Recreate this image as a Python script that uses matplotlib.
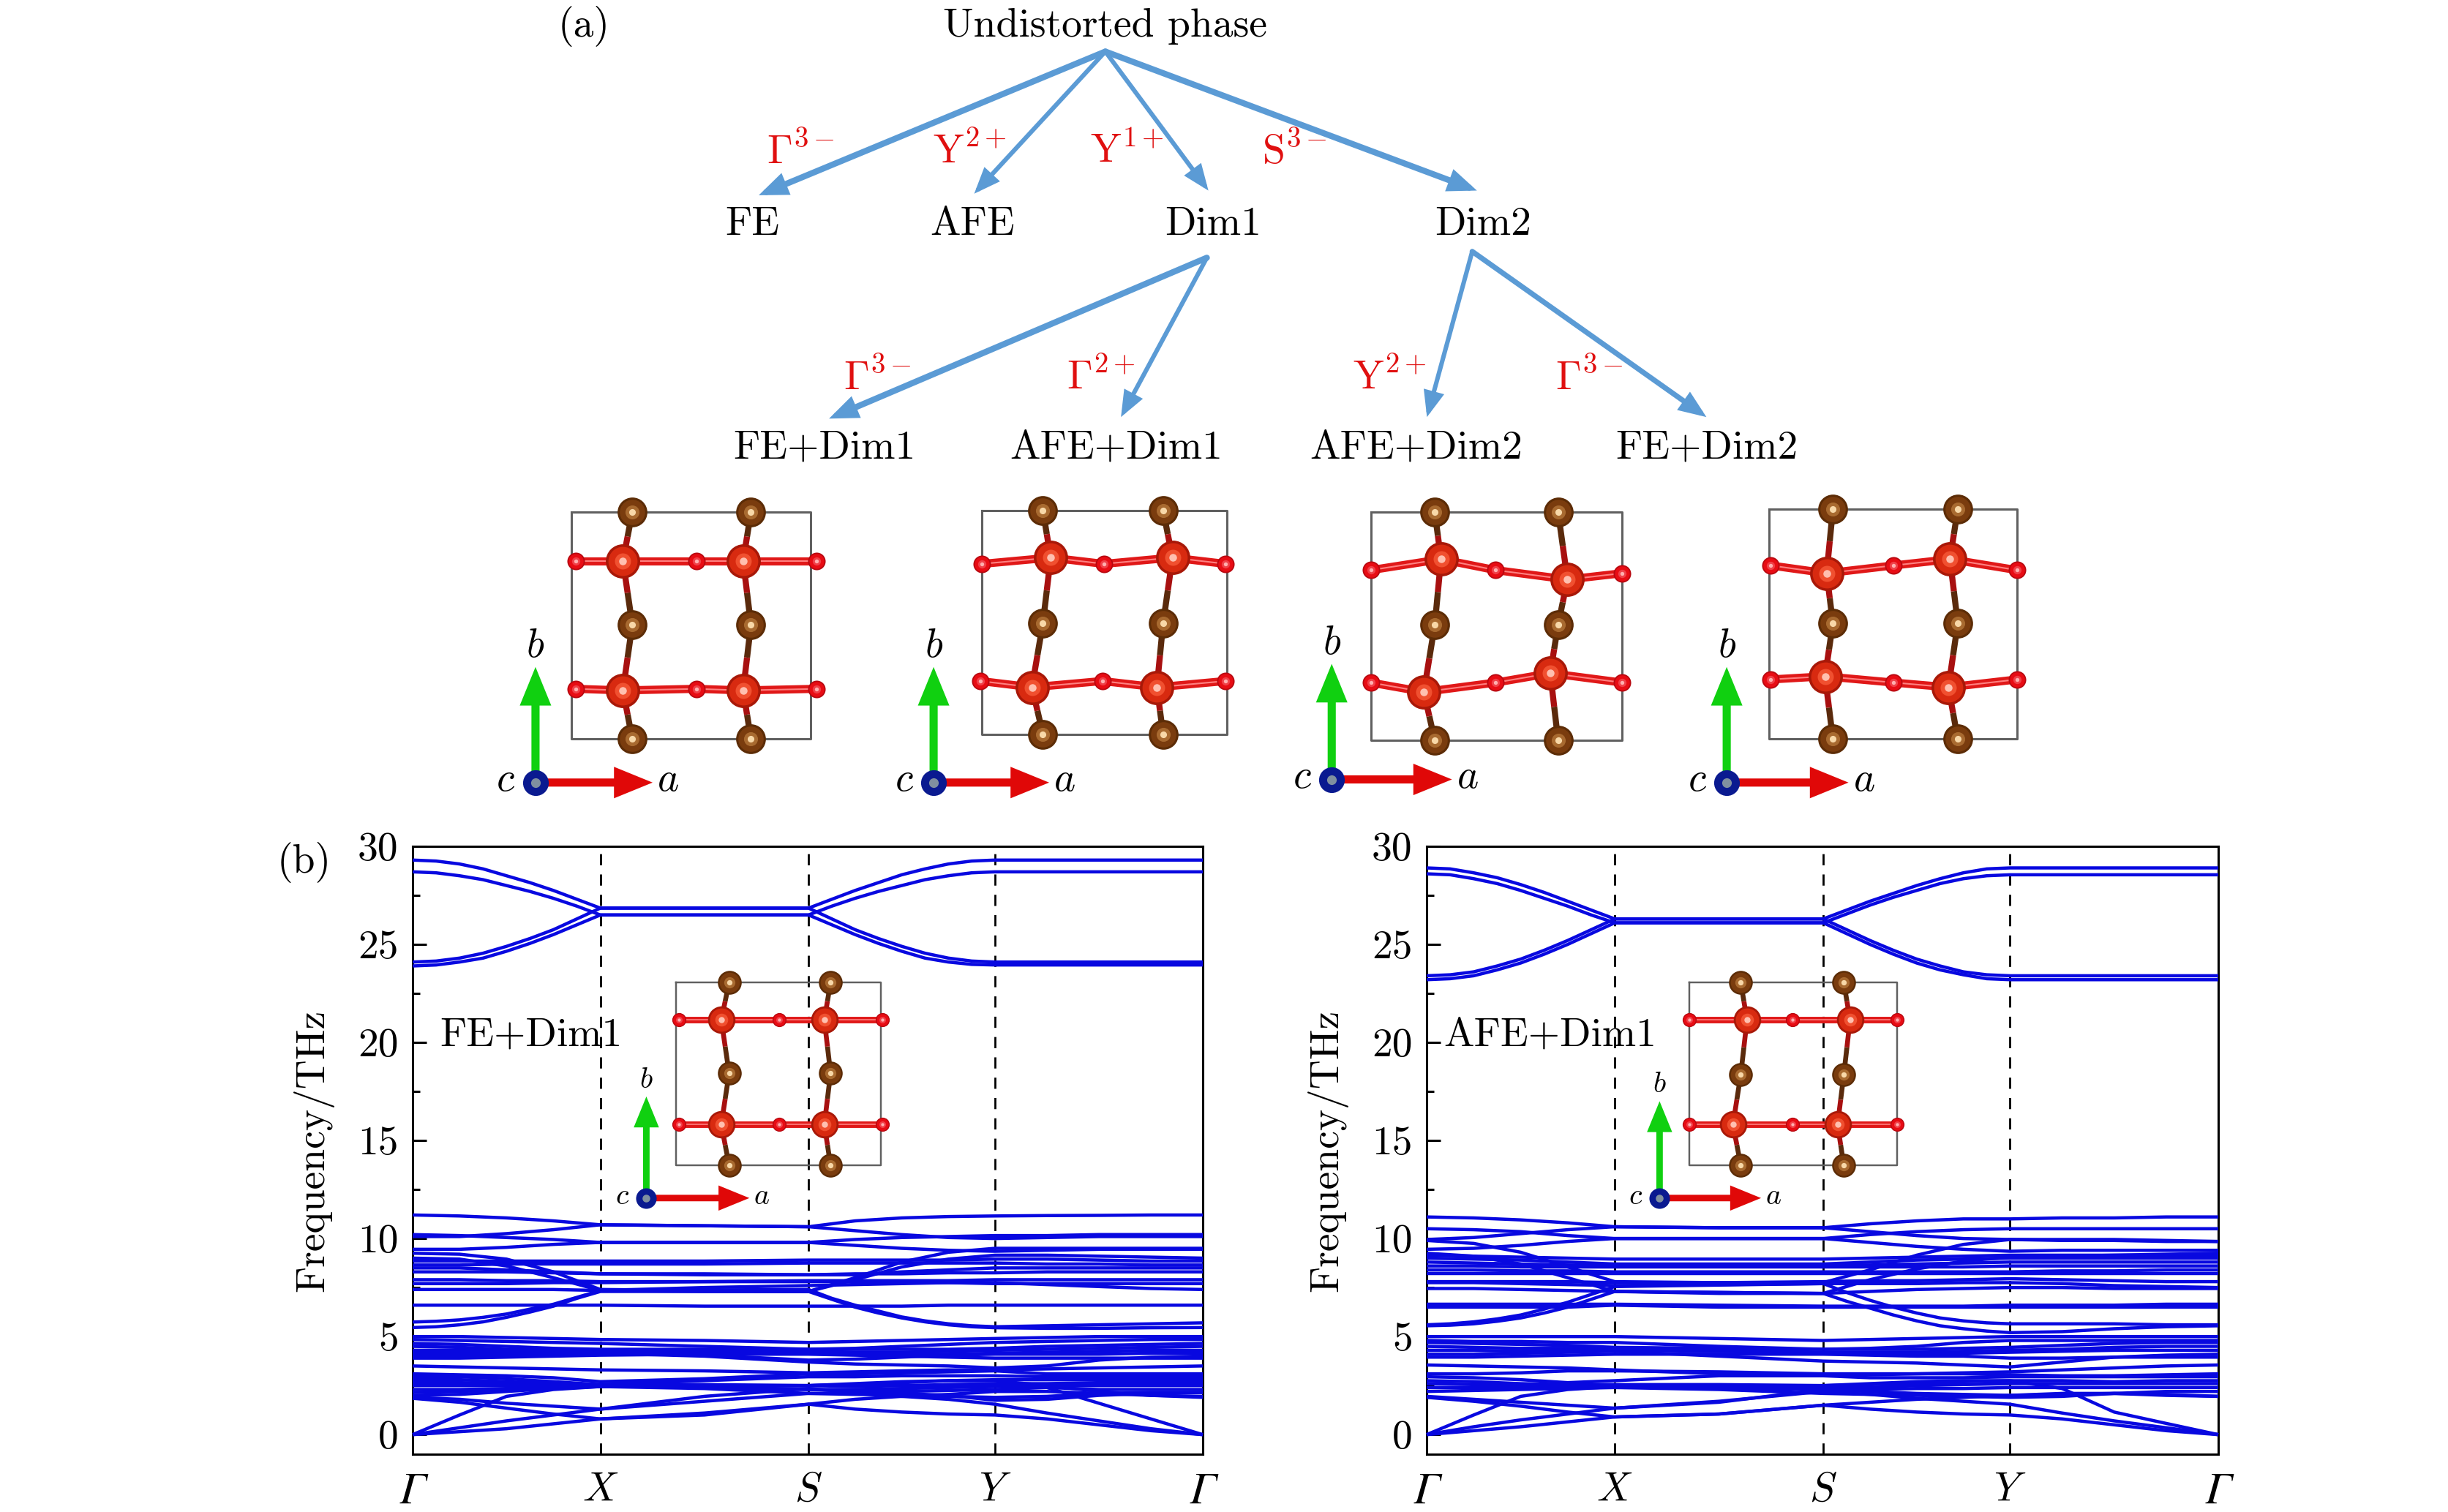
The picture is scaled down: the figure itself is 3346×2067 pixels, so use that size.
"""Soft mode tree, relaxed structures and phonon bands (two panels)
"""

import matplotlib
matplotlib.use('Agg')
import numpy as np
import matplotlib.pyplot as plt
from matplotlib.patches import FancyArrowPatch

plt.rcParams['font.family'] = ['cmr10', 'DejaVu Sans']
plt.rcParams['mathtext.fontset'] = 'cm'
plt.rcParams['axes.unicode_minus'] = False
plt.rcParams['axes.formatter.use_mathtext'] = True

# k path, Gamma-X-S-Y-Gamma with points between the corners
KPATH = [0, .0594, .1188, .1782, .2376, .3693, .501, .560, .619, .678, .737, .8028, .8685, .9343, 1]
# finer path for the bands that are drawn on their own, no point between X and S
KPATH_FINE = [0, .0297, .0594, .0891, .1188, .1485, .1782, .2079, .2376,
              .501, .5305, .560, .5895, .619, .6485, .678, .7075, .737, .8028, .8685, .9343, 1]
KTICKS = [0, .2376, .501, .737, 1]
KLABELS = ['\u0393', '$X$', '$S$', '$Y$', '\u0393']
YTICKS = [0, 5, 10, 15, 20, 25, 30]

FINE_FE = [
    [29.3, 29.25, 29.1, 28.85, 28.5, 28.15, 27.75, 27.3, 26.85, 26.85, 27.3, 27.75, 28.15, 28.55, 28.85, 29.1, 29.25, 29.3, 29.3, 29.3, 29.3, 29.3],
    [28.7, 28.65, 28.5, 28.3, 28.0, 27.7, 27.35, 26.95, 26.5, 26.5, 26.95, 27.35, 27.7, 28.0, 28.3, 28.5, 28.65, 28.7, 28.7, 28.7, 28.7, 28.7],
    [24.1, 24.15, 24.3, 24.55, 24.9, 25.3, 25.75, 26.3, 26.85, 26.85, 26.3, 25.75, 25.3, 24.9, 24.55, 24.3, 24.15, 24.1, 24.1, 24.1, 24.1, 24.1],
    [23.9, 23.95, 24.1, 24.3, 24.65, 25.05, 25.5, 26.0, 26.5, 26.5, 26.0, 25.5, 25.05, 24.65, 24.3, 24.1, 23.98, 23.95, 23.95, 23.95, 23.95, 23.95],
    [5.74, 5.78, 5.85, 5.98, 6.15, 6.4, 6.65, 7.0, 7.35, 7.4, 6.95, 6.6, 6.3, 6.0, 5.8, 5.65, 5.55, 5.5, 5.55, 5.6, 5.65, 5.7],
    [5.46, 5.5, 5.6, 5.75, 5.98, 6.25, 6.55, 6.95, 7.3, 7.3, 6.9, 6.5, 6.2, 5.95, 5.75, 5.6, 5.5, 5.45, 5.42, 5.42, 5.45, 5.46],
]

FINE_AFE = [
    [28.9, 28.85, 28.65, 28.4, 28.05, 27.65, 27.2, 26.75, 26.3, 26.3, 26.75, 27.2, 27.6, 28.0, 28.35, 28.65, 28.85, 28.9, 28.9, 28.9, 28.9, 28.9],
    [28.6, 28.55, 28.35, 28.1, 27.75, 27.35, 26.95, 26.5, 26.1, 26.1, 26.55, 27.0, 27.4, 27.75, 28.1, 28.35, 28.5, 28.55, 28.55, 28.55, 28.55, 28.55],
    [23.4, 23.45, 23.6, 23.9, 24.25, 24.7, 25.2, 25.75, 26.3, 26.3, 25.75, 25.2, 24.7, 24.25, 23.9, 23.6, 23.45, 23.4, 23.4, 23.4, 23.4, 23.4],
    [23.2, 23.25, 23.4, 23.7, 24.05, 24.5, 25.0, 25.55, 26.1, 26.1, 25.55, 25.0, 24.5, 24.05, 23.7, 23.45, 23.25, 23.2, 23.2, 23.2, 23.2, 23.2],
    [5.6, 5.65, 5.75, 5.9, 6.1, 6.4, 6.75, 7.15, 7.55, 7.7, 7.25, 6.85, 6.5, 6.2, 5.95, 5.8, 5.7, 5.65, 5.65, 5.65, 5.6, 5.6],
    [5.55, 5.58, 5.65, 5.78, 5.95, 6.2, 6.5, 6.9, 7.3, 7.2, 6.8, 6.45, 6.1, 5.8, 5.55, 5.4, 5.28, 5.2, 5.25, 5.4, 5.5, 5.55],
]

BANDS_FE = [
    [11.2, 11.15, 11.05, 10.9, 10.7, 10.65, 10.6, 10.9, 11.05, 11.12, 11.15, 11.17, 11.18, 11.2, 11.2],
    [10.1, 10.1, 10.25, 10.45, 10.7, 10.65, 10.6, 10.4, 10.2, 10.05, 10.0, 10.05, 10.1, 10.1, 10.1],
    [10.2, 10.15, 10.05, 9.95, 9.8, 9.8, 9.8, 9.95, 10.05, 10.1, 10.15, 10.15, 10.2, 10.2, 10.2],
    [9.45, 9.45, 9.55, 9.7, 9.8, 9.8, 9.8, 9.65, 9.5, 9.4, 9.35, 9.4, 9.45, 9.45, 9.45],
    [9.25, 9.2, 8.95, 8.3, 7.4, 7.35, 7.3, 8.0, 8.8, 9.3, 9.5, 9.5, 9.5, 9.5, 9.5],
    [9.0, 8.95, 8.6, 8.0, 7.35, 7.3, 7.3, 7.9, 8.55, 8.95, 9.15, 9.15, 9.1, 9.05, 9.0],
    [8.85, 8.85, 8.85, 8.85, 8.85, 8.85, 8.9, 8.9, 8.9, 8.9, 8.95, 8.95, 8.9, 8.85, 8.85],
    [8.65, 8.65, 8.7, 8.7, 8.7, 8.7, 8.75, 8.75, 8.75, 8.75, 8.75, 8.7, 8.7, 8.65, 8.65],
    [8.5, 8.5, 8.4, 8.3, 8.2, 8.2, 8.15, 8.15, 8.3, 8.4, 8.5, 8.5, 8.5, 8.5, 8.5],
    [8.3, 8.3, 8.3, 8.25, 8.2, 8.15, 8.15, 8.2, 8.2, 8.25, 8.25, 8.3, 8.3, 8.3, 8.3],
    [7.9, 7.9, 7.85, 7.85, 7.8, 7.8, 7.85, 7.85, 7.85, 7.85, 7.9, 7.9, 7.9, 7.9, 7.9],
    [7.7, 7.7, 7.7, 7.75, 7.75, 7.8, 7.8, 7.8, 7.75, 7.75, 7.7, 7.7, 7.7, 7.7, 7.7],
    [7.4, 7.4, 7.4, 7.4, 7.35, 7.5, 7.6, 7.65, 7.7, 7.75, 7.75, 7.65, 7.55, 7.45, 7.4],
    [6.6, 6.6, 6.6, 6.6, 6.6, 6.55, 6.55, 6.55, 6.55, 6.6, 6.6, 6.6, 6.6, 6.6, 6.6],
    [5.0, 5.0, 4.95, 4.9, 4.85, 4.8, 4.7, 4.75, 4.8, 4.85, 4.9, 4.95, 5.0, 5.0, 5.0],
    [4.85, 4.8, 4.75, 4.7, 4.65, 4.5, 4.35, 4.4, 4.5, 4.6, 4.7, 4.75, 4.8, 4.85, 4.85],
    [4.65, 4.6, 4.5, 4.4, 4.35, 4.35, 4.35, 4.35, 4.35, 4.35, 4.4, 4.5, 4.55, 4.6, 4.65],
    [4.5, 4.45, 4.35, 4.3, 4.25, 4.25, 4.25, 4.2, 4.2, 4.25, 4.3, 4.35, 4.4, 4.45, 4.5],
    [4.3, 4.3, 4.25, 4.2, 4.2, 4.2, 4.15, 4.1, 4.1, 4.1, 4.15, 4.2, 4.25, 4.3, 4.3],
    [4.15, 4.15, 4.15, 4.15, 4.15, 4.05, 3.8, 3.85, 3.95, 4.05, 4.1, 4.1, 4.1, 4.15, 4.15],
    [4.0, 4.0, 4.05, 4.1, 4.15, 4.0, 3.7, 3.6, 3.55, 3.5, 3.4, 3.5, 3.8, 3.95, 4.0],
    [3.9, 3.9, 3.95, 4.0, 4.05, 4.1, 4.1, 4.05, 4.0, 3.95, 3.9, 3.9, 3.9, 3.9, 3.9],
    [3.5, 3.45, 3.4, 3.35, 3.3, 3.25, 3.15, 3.2, 3.25, 3.3, 3.3, 3.35, 3.4, 3.45, 3.5],
    [3.1, 3.05, 3.0, 2.9, 2.7, 2.85, 3.1, 3.1, 3.15, 3.2, 3.25, 3.1, 3.1, 3.1, 3.1],
    [2.95, 2.95, 2.85, 2.7, 2.55, 2.75, 2.95, 2.95, 3.0, 3.0, 3.0, 2.95, 2.95, 2.95, 2.95],
    [2.8, 2.8, 2.7, 2.6, 2.55, 2.55, 2.5, 2.55, 2.65, 2.75, 2.8, 2.8, 2.8, 2.8, 2.8],
    [2.65, 2.65, 2.6, 2.55, 2.5, 2.5, 2.5, 2.45, 2.5, 2.55, 2.6, 2.6, 2.65, 2.65, 2.65],
    [2.5, 2.5, 2.5, 2.5, 2.5, 2.4, 2.3, 2.3, 2.35, 2.4, 2.45, 2.5, 2.5, 2.5, 2.5],
    [2.3, 2.3, 2.35, 2.4, 2.45, 2.45, 2.3, 2.2, 2.2, 2.25, 2.3, 2.4, 2.3, 2.3, 2.3],
    [2.15, 2.2, 2.3, 2.4, 2.45, 2.35, 2.1, 2.05, 2.0, 1.95, 1.9, 1.95, 2.1, 2.15, 2.15],
    [0, 1.0, 1.95, 2.3, 2.45, 2.5, 2.5, 2.6, 2.7, 2.75, 2.75, 2.5, 2.2, 2.0, 1.9],
    [0, 0.35, 0.7, 1.0, 1.3, 1.7, 2.1, 2.1, 2.1, 2.0, 1.75, 1.8, 2.0, 2.1, 2.15],
    [0, 0.15, 0.3, 0.55, 0.8, 1.1, 1.55, 1.8, 1.95, 2.05, 2.2, 2.2, 2.1, 2.0, 1.95],
    [1.9, 1.8, 1.6, 1.45, 1.3, 1.95, 2.35, 2.15, 1.95, 1.8, 1.55, 1.1, 0.7, 0.3, 0],
    [1.85, 1.65, 1.35, 1.05, 0.8, 1.0, 1.55, 1.3, 1.15, 1.05, 1.0, 0.8, 0.5, 0.2, 0],
    [2.0, 2.05, 2.2, 2.35, 2.45, 2.5, 2.5, 2.55, 2.5, 2.5, 2.5, 2.4, 1.6, 0.8, 0],
]

BANDS_AFE = [
    [11.1, 11.05, 10.95, 10.8, 10.6, 10.55, 10.55, 10.75, 10.9, 11.0, 11.0, 11.05, 11.05, 11.1, 11.1],
    [10.5, 10.45, 10.35, 10.15, 10.0, 10.0, 10.0, 10.2, 10.35, 10.45, 10.5, 10.5, 10.5, 10.5, 10.5],
    [9.95, 10.05, 10.25, 10.45, 10.6, 10.55, 10.55, 10.35, 10.15, 10.0, 9.95, 9.9, 9.9, 9.85, 9.85],
    [9.45, 9.5, 9.65, 9.85, 10.0, 10.0, 10.0, 9.8, 9.6, 9.45, 9.35, 9.4, 9.4, 9.4, 9.4],
    [9.9, 9.75, 9.3, 8.55, 7.8, 7.75, 7.75, 8.4, 9.15, 9.7, 9.95, 9.95, 9.95, 9.9, 9.85],
    [9.25, 9.1, 8.7, 8.0, 7.3, 7.2, 7.2, 7.9, 8.45, 8.85, 9.05, 9.1, 9.15, 9.2, 9.25],
    [9.15, 9.1, 9.05, 9.0, 8.95, 8.95, 8.95, 9.0, 9.05, 9.1, 9.15, 9.15, 9.15, 9.15, 9.15],
    [9.0, 8.95, 8.9, 8.8, 8.7, 8.7, 8.7, 8.8, 8.9, 8.95, 9.0, 9.0, 9.0, 9.0, 9.0],
    [8.8, 8.75, 8.7, 8.65, 8.6, 8.6, 8.65, 8.65, 8.7, 8.75, 8.8, 8.8, 8.8, 8.8, 8.8],
    [8.6, 8.6, 8.55, 8.55, 8.55, 8.55, 8.55, 8.55, 8.55, 8.55, 8.6, 8.6, 8.6, 8.6, 8.6],
    [8.4, 8.4, 8.35, 8.35, 8.3, 8.3, 8.3, 8.3, 8.3, 8.3, 8.3, 8.35, 8.35, 8.4, 8.4],
    [8.2, 8.2, 8.2, 8.2, 8.2, 8.2, 8.2, 8.2, 8.2, 8.2, 8.2, 8.2, 8.2, 8.2, 8.2],
    [7.8, 7.8, 7.8, 7.8, 7.75, 7.75, 7.8, 7.85, 7.85, 7.9, 7.95, 7.9, 7.85, 7.8, 7.8],
    [7.75, 7.75, 7.7, 7.65, 7.6, 7.65, 7.7, 7.7, 7.7, 7.75, 7.75, 7.7, 7.6, 7.55, 7.5],
    [7.45, 7.45, 7.4, 7.35, 7.3, 7.25, 7.2, 7.3, 7.4, 7.45, 7.5, 7.5, 7.45, 7.45, 7.45],
    [6.65, 6.65, 6.65, 6.65, 6.65, 6.6, 6.55, 6.55, 6.55, 6.55, 6.6, 6.6, 6.6, 6.65, 6.65],
    [6.5, 6.5, 6.5, 6.5, 6.6, 6.5, 6.5, 6.5, 6.5, 6.5, 6.5, 6.5, 6.5, 6.5, 6.5],
    [5.0, 5.0, 5.0, 5.0, 5.0, 4.9, 4.8, 4.85, 4.9, 4.95, 5.0, 5.0, 5.0, 5.0, 5.0],
    [4.8, 4.75, 4.75, 4.7, 4.7, 4.5, 4.35, 4.4, 4.5, 4.7, 4.8, 4.8, 4.8, 4.8, 4.8],
    [4.7, 4.65, 4.6, 4.55, 4.45, 4.4, 4.35, 4.35, 4.35, 4.4, 4.45, 4.55, 4.65, 4.7, 4.7],
    [4.5, 4.45, 4.4, 4.4, 4.4, 4.3, 4.2, 4.2, 4.2, 4.25, 4.3, 4.35, 4.45, 4.5, 4.5],
    [4.3, 4.3, 4.25, 4.3, 4.3, 4.25, 4.15, 4.15, 4.15, 4.15, 4.2, 4.25, 4.3, 4.3, 4.3],
    [4.1, 4.1, 4.15, 4.2, 4.25, 4.0, 3.75, 3.7, 3.65, 3.55, 3.45, 3.7, 3.95, 4.05, 4.1],
    [3.95, 3.95, 4.0, 4.05, 4.1, 4.1, 4.1, 4.05, 4.0, 4.0, 3.9, 3.9, 3.95, 3.95, 3.95],
    [3.55, 3.5, 3.45, 3.4, 3.3, 3.1, 3.05, 3.05, 3.1, 3.15, 3.2, 3.3, 3.4, 3.5, 3.55],
    [3.1, 3.1, 3.15, 3.25, 3.25, 3.2, 3.1, 3.1, 3.1, 3.1, 3.05, 3.0, 3.0, 3.05, 3.1],
    [2.95, 2.9, 2.8, 2.65, 2.75, 3.0, 3.0, 2.9, 2.9, 2.9, 2.95, 2.95, 2.95, 2.95, 2.95],
    [2.75, 2.7, 2.6, 2.55, 2.55, 2.55, 2.5, 2.55, 2.6, 2.7, 2.75, 2.75, 2.7, 2.75, 2.75],
    [2.6, 2.55, 2.5, 2.5, 2.45, 2.45, 2.4, 2.4, 2.5, 2.55, 2.6, 2.6, 2.6, 2.6, 2.6],
    [2.4, 2.4, 2.4, 2.45, 2.45, 2.35, 2.3, 2.3, 2.35, 2.35, 2.4, 2.4, 2.4, 2.4, 2.4],
    [2.2, 2.25, 2.3, 2.35, 2.4, 2.3, 2.1, 2.05, 2.0, 1.95, 1.9, 1.95, 2.1, 2.2, 2.2],
    [0, 1.0, 1.95, 2.3, 2.45, 2.5, 2.5, 2.6, 2.7, 2.75, 2.75, 2.35, 1.15, 0.57, 0],
    [0, 0.4, 0.75, 1.05, 1.35, 1.65, 2.3, 2.2, 2.1, 2.05, 2.0, 2.05, 2.1, 2.0, 1.95],
    [0, 0.2, 0.4, 0.65, 0.9, 1.05, 1.5, 1.65, 1.8, 1.9, 2.0, 2.1, 2.1, 2.05, 1.95],
    [1.95, 1.8, 1.65, 1.5, 1.35, 1.7, 2.2, 2.05, 1.85, 1.7, 1.55, 1.1, 0.7, 0.35, 0],
    [1.9, 1.7, 1.45, 1.15, 0.9, 1.05, 1.5, 1.3, 1.15, 1.05, 1.0, 0.8, 0.5, 0.2, 0],
]

# tree of phases, positions in px of a 1568 wide frame
ARROW_FROM = [(708, 33), (708, 33), (708, 33), (708, 33), (773, 165), (773, 165), (943, 161), (943, 161)]
ARROW_TO = [(486, 125), (624, 124), (774, 122), (946, 122), (531, 268), (718, 267), (914, 267), (1093, 267)]
ARROW_LW = [6.0, 4.4, 4.4, 6.0, 6.0, 4.4, 4.4, 5.2]
PHASE_TEXT = ['Undistorted phase', 'FE', 'AFE', 'Dim1', 'Dim2', 'FE+Dim1', 'AFE+Dim1', 'AFE+Dim2', 'FE+Dim2']
PHASE_XY = [(708, 17), (482, 144), (623, 144), (777, 144), (950, 144), (528, 287), (715, 287), (907, 287), (1093, 287)]
IRREP_TEXT = [r'$\Gamma^{3-}$', r'$\mathrm{Y}^{2+}$', r'$\mathrm{Y}^{1+}$', r'$\mathrm{S}^{3-}$',
              r'$\Gamma^{3-}$', r'$\Gamma^{2+}$', r'$\mathrm{Y}^{2+}$', r'$\Gamma^{3-}$']
IRREP_XY = [(513, 97), (621, 97), (722, 97), (829, 97), (562, 242), (705, 242), (890, 242), (1018, 242)]

# cells: box, brown atoms, big red atoms, small red atoms, origin of a/b/c frame, tips
CELL_BOX = [(366, 519, 328, 473), (629, 786, 327, 470), (878, 1039, 328, 474), (1133, 1292, 326, 473)]
CELL_BROWN = [
    [(405, 328), (481, 328), (405, 400), (481, 400), (405, 473), (481, 473)],
    [(668, 327), (745, 327), (668, 399), (745, 399), (668, 470), (745, 470)],
    [(919, 328), (998, 328), (919, 400), (998, 400), (919, 474), (998, 474)],
    [(1174, 326), (1254, 326), (1174, 399), (1254, 399), (1174, 473), (1254, 473)],
]
CELL_BIG = [
    [(399, 359), (476, 359), (399, 442), (476, 442)],
    [(673, 357), (751, 357), (661, 440), (741, 440)],
    [(923, 358), (1004, 371), (912, 443), (993, 431)],
    [(1170, 367), (1249, 358), (1169, 433), (1248, 440)],
]
CELL_SMALL = [
    [(369, 359), (446, 359), (523, 359), (369, 441), (446, 441), (523, 441)],
    [(629, 361), (707, 361), (785, 361), (628, 436), (706, 436), (785, 436)],
    [(878, 365), (958, 365), (1039, 367), (878, 437), (958, 437), (1039, 437)],
    [(1134, 362), (1213, 362), (1292, 365), (1134, 435), (1213, 437), (1292, 435)],
]
FRAME_ORIGIN = [(343, 501), (598, 501), (853, 499), (1106, 501)]
FRAME_TIP_B = [427, 427, 425, 427]
FRAME_TIP_A = [418, 672, 930, 1184]

INSET_BOX = [(433, 564, 629, 746), (1082, 1215, 629, 746)]
INSET_BROWN = [
    [(467, 629), (532, 629), (467, 687), (532, 687), (467, 746), (532, 746)],
    [(1115, 629), (1181, 629), (1115, 688), (1181, 688), (1115, 746), (1181, 746)],
]
INSET_BIG = [
    [(462, 653), (528, 653), (462, 720), (528, 720)],
    [(1119, 653), (1185, 653), (1110, 720), (1177, 720)],
]
INSET_SMALL = [
    [(435, 653), (499, 653), (565, 653), (435, 720), (499, 720), (565, 720)],
    [(1082, 653), (1148, 653), (1215, 653), (1082, 720), (1148, 720), (1215, 720)],
]
INSET_ORIGIN = [(414, 767), (1063, 767)]
INSET_TIP_B = [702, 705]
INSET_TIP_A = [480, 1128]

BLUE = '#0808e0'
ARROW_BLUE = '#5b9bd5'


def plot_bands(ax, bands, fine, ylabel_x):
    for band in bands:
        ax.plot(KPATH, band, color=BLUE, lw=3.2, solid_capstyle='butt', clip_on=False, zorder=3)
    for band in fine:
        ax.plot(KPATH_FINE, band, color=BLUE, lw=3.2, solid_capstyle='butt', clip_on=False, zorder=3)
    for k in KTICKS[1:-1]:
        ax.axvline(k, color='k', lw=2.0, dashes=(5.5, 4.5), zorder=2)
    ax.set_xlim(0, 1)
    ax.set_ylim(-1, 30)
    ax.set_xticks(KTICKS)
    labs = ax.set_xticklabels(KLABELS, fontsize=40)
    # capital greek stays upright in mathtext, so take an italic font for it
    for i in (0, 4):
        labs[i].set_fontfamily('STIXGeneral')
        labs[i].set_fontstyle('italic')
        labs[i].set_fontsize(44)
    ax.set_yticks(YTICKS)
    ax.set_yticklabels([str(v) for v in YTICKS], fontsize=40)
    ax.set_yticks([2.5, 7.5, 12.5, 17.5, 22.5, 27.5], minor=True)
    ax.tick_params(axis='x', length=0, pad=18)
    ax.tick_params(axis='y', which='major', direction='in', length=14, width=2.2, pad=14)
    ax.tick_params(axis='y', which='minor', direction='in', length=7, width=2.2)
    ax.set_ylabel('Frequency/THz', fontsize=40)
    ax.yaxis.set_label_coords(ylabel_x, 0.5)
    for sp in ax.spines.values():
        sp.set_linewidth(2.2)


def draw_atoms(ax, xy, size, dark, mid, light, spot):
    x = [p[0] for p in xy]
    y = [p[1] for p in xy]
    ax.scatter(x, y, s=size, c=dark, lw=0, zorder=6)
    ax.scatter(x, y, s=size * 0.72, c=mid, lw=0, zorder=7)
    ax.scatter(x, y, s=size * 0.22, c=light, lw=0, zorder=8)
    ax.scatter(x, y, s=size * 0.05, c=spot, lw=0, zorder=8)


def half_bond(ax, p, q, lw):
    # each bond is drawn in the colours of its two ends
    m = ((p[0] + q[0]) / 2, (p[1] + q[1]) / 2)
    ax.plot([p[0], m[0]], [p[1], m[1]], color='#5a2a0c', lw=lw, zorder=5, solid_capstyle='butt')
    ax.plot([m[0], q[0]], [m[1], q[1]], color='#a81010', lw=lw, zorder=5, solid_capstyle='butt')


def draw_cell(ax, box, brown, big, small, origin, tip_b, tip_a, k):
    x0, x1, y0, y1 = box
    ax.plot([x0, x1, x1, x0, x0], [y0, y0, y1, y1, y0], color='#606060', lw=2.2 * k, zorder=4)
    for c in (0, 1):
        half_bond(ax, brown[c], big[c], 6 * k)
        half_bond(ax, brown[2 + c], big[c], 6 * k)
        half_bond(ax, brown[2 + c], big[2 + c], 6 * k)
        half_bond(ax, brown[4 + c], big[2 + c], 6 * k)
    for r in (0, 1):
        row_big = big[2 * r:2 * r + 2]
        row_small = small[3 * r:3 * r + 3]
        for p, q in [(row_small[0], row_big[0]), (row_big[0], row_small[1]),
                     (row_small[1], row_big[1]), (row_big[1], row_small[2])]:
            ax.plot([p[0], q[0]], [p[1], q[1]], color='#e01818', lw=8 * k, zorder=5, solid_capstyle='butt')
            ax.plot([p[0], q[0]], [p[1], q[1]], color='#ff8080', lw=1.5 * k, zorder=5, solid_capstyle='butt')
    draw_atoms(ax, brown, 860 * k ** 2, '#5c2c06', '#7a3c0e', '#a86a30', '#f8d8a8')
    draw_atoms(ax, big, 1140 * k ** 2, '#a81808', '#d82a10', '#f05030', '#ffc0b0')
    draw_atoms(ax, small, 300 * k ** 2, '#b80810', '#e80c14', '#f04048', '#ffb0b0')

    ox, oy = origin
    style = 'simple,head_width=1.55,head_length=1.9,tail_width=0.4'
    ax.add_patch(FancyArrowPatch((ox, oy), (ox, tip_b), arrowstyle=style,
                                 mutation_scale=20 * k, color='#10d010', lw=0, shrinkA=0, shrinkB=0, zorder=6))
    ax.add_patch(FancyArrowPatch((ox, oy), (tip_a, oy), arrowstyle=style,
                                 mutation_scale=20 * k, color='#e00808', lw=0, shrinkA=0, shrinkB=0, zorder=6))
    ax.scatter([ox], [oy], s=640 * k ** 2, c='#0a1a90', lw=0, zorder=8)
    ax.scatter([ox], [oy], s=90 * k ** 2, c='#8090a0', lw=0, zorder=9)
    fs = 40 * (0.72 if k < 1 else 1)
    ax.text(ox, tip_b - 13 * k, '$b$', fontsize=fs, ha='center', va='center', zorder=10)
    ax.text(ox - 19 * k, oy - 1, '$c$', fontsize=fs, ha='center', va='center', zorder=10)
    ax.text(tip_a + 10 * k, oy - 1, '$a$', fontsize=fs, ha='center', va='center', zorder=10)


fig = plt.figure(figsize=(33.46, 20.67), dpi=100)
W, H = 3346.0, 2067.0

ax_l = fig.add_axes([564 / W, 1 - 1988 / H, (1644 - 564) / W, (1988 - 1157) / H])
ax_r = fig.add_axes([1950 / W, 1 - 1988 / H, (3032 - 1950) / W, (1988 - 1157) / H])
plot_bands(ax_l, BANDS_FE, FINE_FE, -0.100)
plot_bands(ax_r, BANDS_AFE, FINE_AFE, -0.100)

# overlay in frame px for the tree, the cells and the panel letters
top = fig.add_axes([0, 0, 1, 1], facecolor='none', zorder=10)
top.set_xlim(0, 1568)
top.set_ylim(968, 0)
top.axis('off')

for start, end, lw in zip(ARROW_FROM, ARROW_TO, ARROW_LW):
    top.add_patch(FancyArrowPatch(start, end, arrowstyle='-|>,head_length=0.75,head_width=0.3', mutation_scale=24,
                                  color=ARROW_BLUE, lw=lw, shrinkA=0, shrinkB=0, joinstyle='miter'))
for label, (x, y) in zip(PHASE_TEXT, PHASE_XY):
    top.text(x, y, label, fontsize=40, ha='center', va='center', color='k')
for label, (x, y) in zip(IRREP_TEXT, IRREP_XY):
    top.text(x, y, label, fontsize=40, ha='center', va='center', color='#e01010')

top.text(374, 17, '(a)', fontsize=40, ha='center', va='center')
top.text(195, 552, '(b)', fontsize=40, ha='center', va='center')
top.text(340, 663, 'FE+Dim1', fontsize=40, ha='center', va='center')
top.text(993, 663, 'AFE+Dim1', fontsize=40, ha='center', va='center')

for i in range(4):
    draw_cell(top, CELL_BOX[i], CELL_BROWN[i], CELL_BIG[i], CELL_SMALL[i], FRAME_ORIGIN[i],
              FRAME_TIP_B[i], FRAME_TIP_A[i], 1.0)
for i in range(2):
    draw_cell(top, INSET_BOX[i], INSET_BROWN[i], INSET_BIG[i], INSET_SMALL[i], INSET_ORIGIN[i],
              INSET_TIP_B[i], INSET_TIP_A[i], 0.8)

fig.savefig('out.png', dpi=100, facecolor='white')
